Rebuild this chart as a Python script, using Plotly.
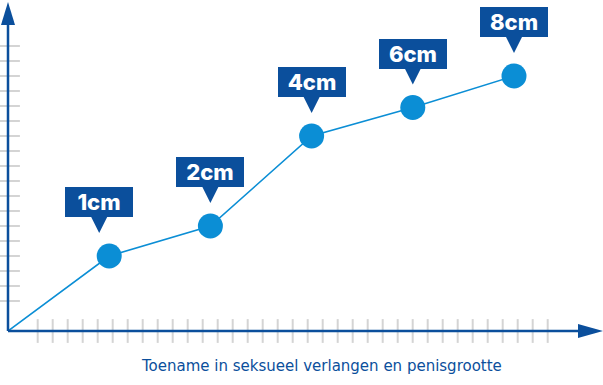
import plotly.graph_objects as go

# ---- data ----
steps = [0, 1, 2, 3, 4, 5]
level = [0, 5, 7, 13, 14.9, 17]
labels = ["1cm", "2cm", "4cm", "6cm", "8cm"]
label_xshift = [-10, 0, 0, 0, 0]
x_title = "Toename in seksueel verlangen en penisgrootte"

# ---- style / geometry ----
W, H = 603, 385
ML, MR, MT, MB = 8, 0, 2, 54
PW, PH = W - ML - MR, H - MT - MB
PX_PER_X = 101.2
PX_PER_Y = 15.0
XR = [0, PW / PX_PER_X]
YR = [0, PH / PX_PER_Y]

DARK = "#0b4f9c"
BRIGHT = "#0b8ed5"
GRAY = "#d4d4d4"

def px2paper(px, py):
    return (px - ML) / PW, (H - MB - py) / PH

xtick_vals = [(29.7 + 15 * k) / PX_PER_X for k in range(35)]
ytick_vals = list(range(2, 20))

fig = go.Figure()

# tick marks crossing the axes
fig.add_trace(go.Scatter(
    x=xtick_vals, y=[0] * len(xtick_vals), mode="markers",
    marker=dict(symbol="line-ns-open", size=17, color=GRAY, line=dict(color=GRAY, width=2)),
    cliponaxis=False, hoverinfo="skip", showlegend=False))
fig.add_trace(go.Scatter(
    x=[0] * len(ytick_vals), y=ytick_vals, mode="markers",
    marker=dict(symbol="line-ew-open", size=17, color=GRAY, line=dict(color=GRAY, width=2)),
    cliponaxis=False, hoverinfo="skip", showlegend=False))

# line
fig.add_trace(go.Scatter(x=steps, y=level, mode="lines",
                         line=dict(color=BRIGHT, width=1.6),
                         hoverinfo="skip", showlegend=False))
# markers
fig.add_trace(go.Scatter(x=steps[1:], y=level[1:], mode="markers",
                         marker=dict(size=25, color=BRIGHT),
                         cliponaxis=False, showlegend=False))

# labels with pointer
for xv, yv, t, xs in zip(steps[1:], level[1:], labels, label_xshift):
    fig.add_annotation(
        x=xv, y=yv, xref="x", yref="y", text=t,
        showarrow=True, arrowhead=2, arrowsize=1.7, arrowwidth=2,
        arrowcolor=DARK, ax=0, ay=-54, axref="pixel", ayref="pixel",
        standoff=23, xshift=xs,
        bgcolor=DARK, width=68, height=30, borderpad=0, borderwidth=0,
        font=dict(family="Inter", size=22, weight=800, color="white"))

# x title
tx, ty = px2paper(321, 366)
fig.add_annotation(x=tx, y=ty, xref="paper", yref="paper", text=x_title,
                   showarrow=False, xanchor="center", yanchor="middle",
                   font=dict(family="DejaVu Sans", size=15, color=DARK))

# axes lines and arrow heads
ox, oy = px2paper(8, 331)
yt = px2paper(8, 12)
xt = px2paper(590, 331)
fig.add_shape(type="line", xref="paper", yref="paper", x0=ox, y0=oy, x1=ox, y1=yt[1],
              line=dict(color=DARK, width=2.5))
fig.add_shape(type="line", xref="paper", yref="paper", x0=ox, y0=oy, x1=xt[0], y1=oy,
              line=dict(color=DARK, width=2.5))

def tri(pts):
    pp = [px2paper(a, b) for a, b in pts]
    return "M{},{} L{},{} L{},{} Z".format(pp[0][0], pp[0][1], pp[1][0], pp[1][1], pp[2][0], pp[2][1])

fig.add_shape(type="path", xref="paper", yref="paper", path=tri([(8, 2), (1, 25), (15, 25)]),
              fillcolor=DARK, line=dict(width=0))
fig.add_shape(type="path", xref="paper", yref="paper", path=tri([(603, 331), (578, 324), (578, 338)]),
              fillcolor=DARK, line=dict(width=0))

fig.update_layout(
    width=W, height=H, margin=dict(l=ML, r=MR, t=MT, b=MB),
    paper_bgcolor="white", plot_bgcolor="white",
    xaxis=dict(range=XR, showgrid=False, zeroline=False, showticklabels=False,
               ticks="", showline=False, fixedrange=True),
    yaxis=dict(range=YR, showgrid=False, zeroline=False, showticklabels=False,
               ticks="", showline=False, fixedrange=True),
    showlegend=False,
)

fig.write_html("out.html", config={"displayModeBar": False},
               post_script="document.body.style.margin='0';document.body.style.padding='0';")
